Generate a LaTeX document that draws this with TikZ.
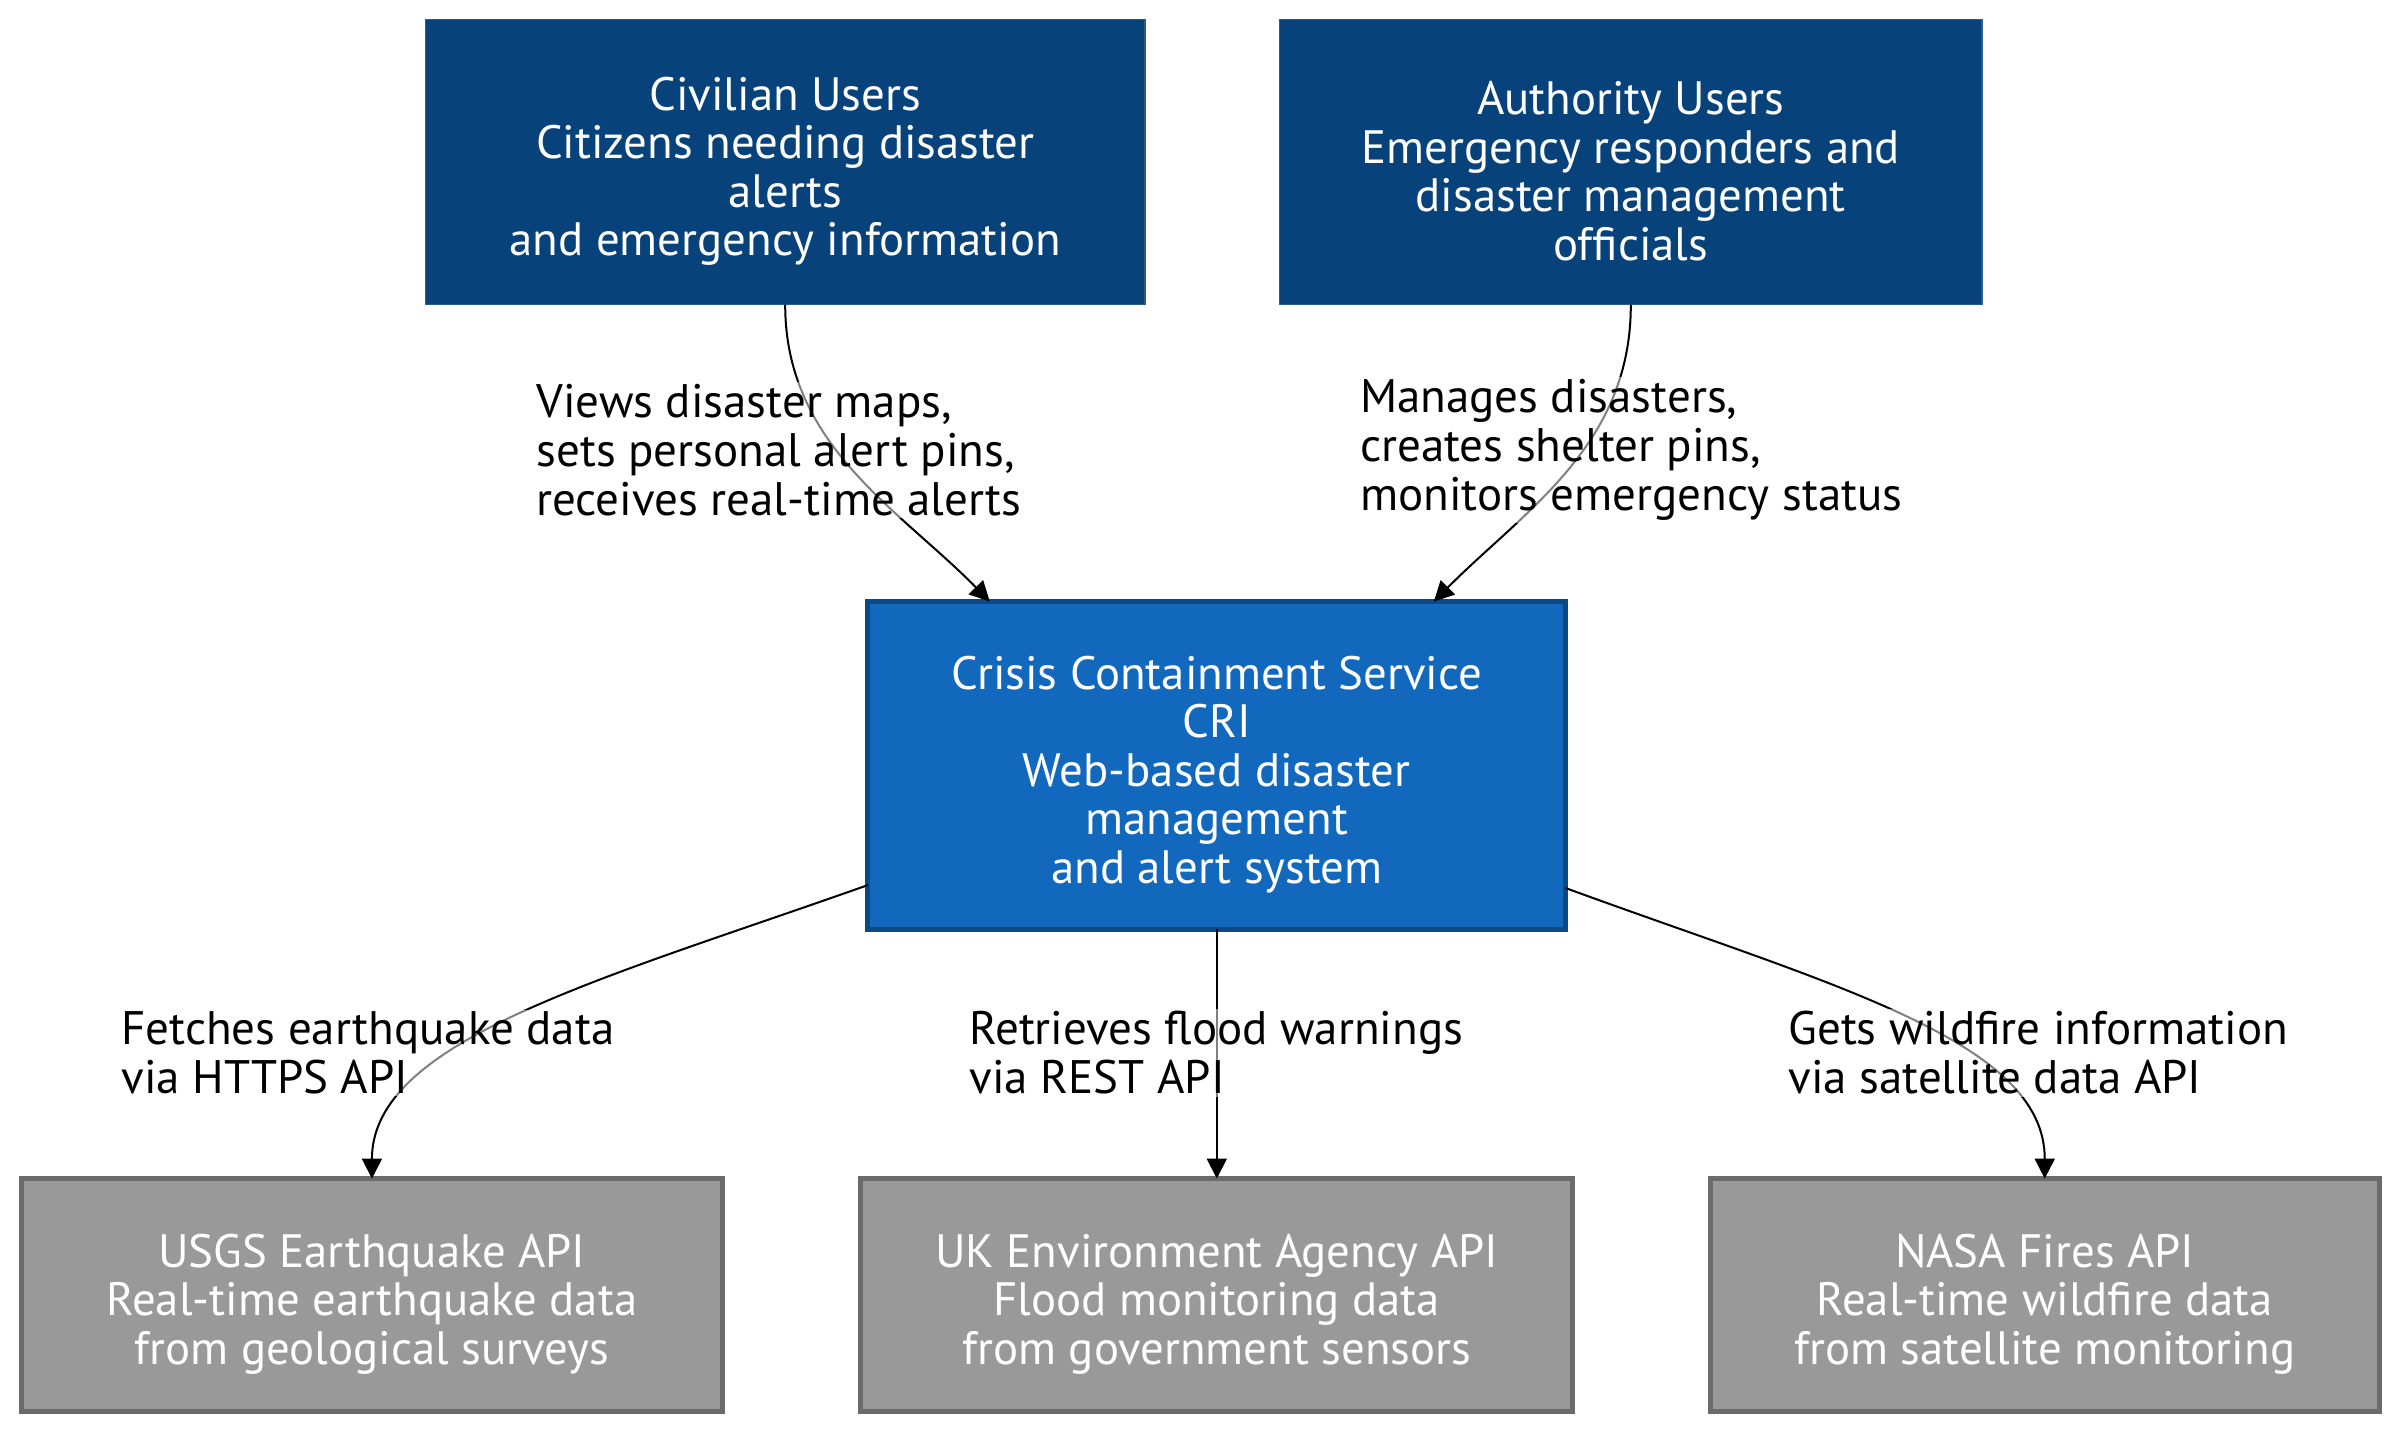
\documentclass[tikz,border=0pt]{standalone}
\usepackage{fontspec}
\setmainfont{PT Sans}
\usetikzlibrary{arrows.meta,calc}

\definecolor{personfill}{HTML}{08427B}
\definecolor{personline}{HTML}{2B5C8C}
\definecolor{sysfill}{HTML}{1168BD}
\definecolor{sysline}{HTML}{0B4884}
\definecolor{extfill}{HTML}{999999}
\definecolor{extline}{HTML}{6B6B6B}

\begin{document}
\begin{tikzpicture}[x=0.5pt,y=-0.5pt,
    boxtext/.style={text=white,align=center,inner sep=0pt,font=\fontsize{23.4}{24.25}\selectfont,yshift=-4.5pt},
    person/.style={draw=personline,line width=0.6pt,fill=personfill,minimum height=142.4pt,outer sep=0pt},
    system/.style={draw=sysline,line width=2.6pt,fill=sysfill,minimum width=349pt,minimum height=163.8pt,outer sep=0pt},
    extsys/.style={draw=extline,line width=2.4pt,fill=extfill,minimum height=116.3pt,outer sep=0pt},
    link/.style={draw=black,line width=1pt,-{Triangle[length=10pt,width=10pt]}},
    lbl/.style={fill=white,fill opacity=0.5,text opacity=1,text=black,align=left,anchor=west,inner sep=1pt,font=\fontsize{23.5}{24.5}\selectfont}]
    \useasboundingbox (0,0) rectangle (2400,1434);

    % users
    \node[person,minimum width=359.7pt] (civ) at (785.2,162.3) {};
    \node[boxtext] (civ-t) at (civ.center) {Civilian Users\\Citizens needing disaster\\alerts\\and emergency information};
    \node[person,minimum width=351.2pt] (auth) at (1630.8,162.3) {};
    \node[boxtext] (auth-t) at (auth.center) {Authority Users\\Emergency responders and\\disaster management\\officials};

    % the system
    \node[system] (cri) at (1216.8,765.3) {};
    \node[boxtext] (cri-t) at (cri.center) {Crisis Containment Service\\CRI\\Web-based disaster\\management\\and alert system};

    % external apis
    \node[extsys,minimum width=350.5pt] (usgs) at (371.9,1294.9) {};
    \node[boxtext] (usgs-t) at (usgs.center) {USGS Earthquake API\\Real-time earthquake data\\from geological surveys};
    \node[extsys,minimum width=356pt] (ukea) at (1216.8,1294.9) {};
    \node[boxtext] (ukea-t) at (ukea.center) {UK Environment Agency API\\Flood monitoring data\\from government sensors};
    \node[extsys,minimum width=334.5pt] (nasa) at (2044.7,1294.9) {};
    \node[boxtext] (nasa-t) at (nasa.center) {NASA Fires API\\Real-time wildfire data\\from satellite monitoring};

    \draw[link] (civ.south) .. controls (785,445) and (900,510) .. ($(cri.north)+(-227,0)$);
    \draw[link] (auth.south) .. controls (1631,445) and (1525,510) .. ($(cri.north)+(217,0)$);
    \draw[link] ($(cri.south west)+(0,-44)$) .. controls (600,980) and (372,1040) .. (usgs.north);
    \draw[link] (cri.south) -- (ukea.north);
    \draw[link] ($(cri.south east)+(0,-41)$) .. controls (1830,985) and (2045,1040) .. (nasa.north);

    \node[lbl] (l1) at (534,450) {Views disaster maps,\\sets personal alert pins,\\receives real-time alerts};
    \node[lbl] (l2) at (1357.6,450) {Manages disasters,\\creates shelter pins,\\monitors emergency status};
    \node[lbl] (l3) at (119,1053) {Fetches earthquake data\\via HTTPS API};
    \node[lbl] (l4) at (967,1053) {Retrieves flood warnings\\via REST API};
    \node[lbl] (l5) at (1786,1053) {Gets wildfire information\\via satellite data API};
\end{tikzpicture}
\end{document}
